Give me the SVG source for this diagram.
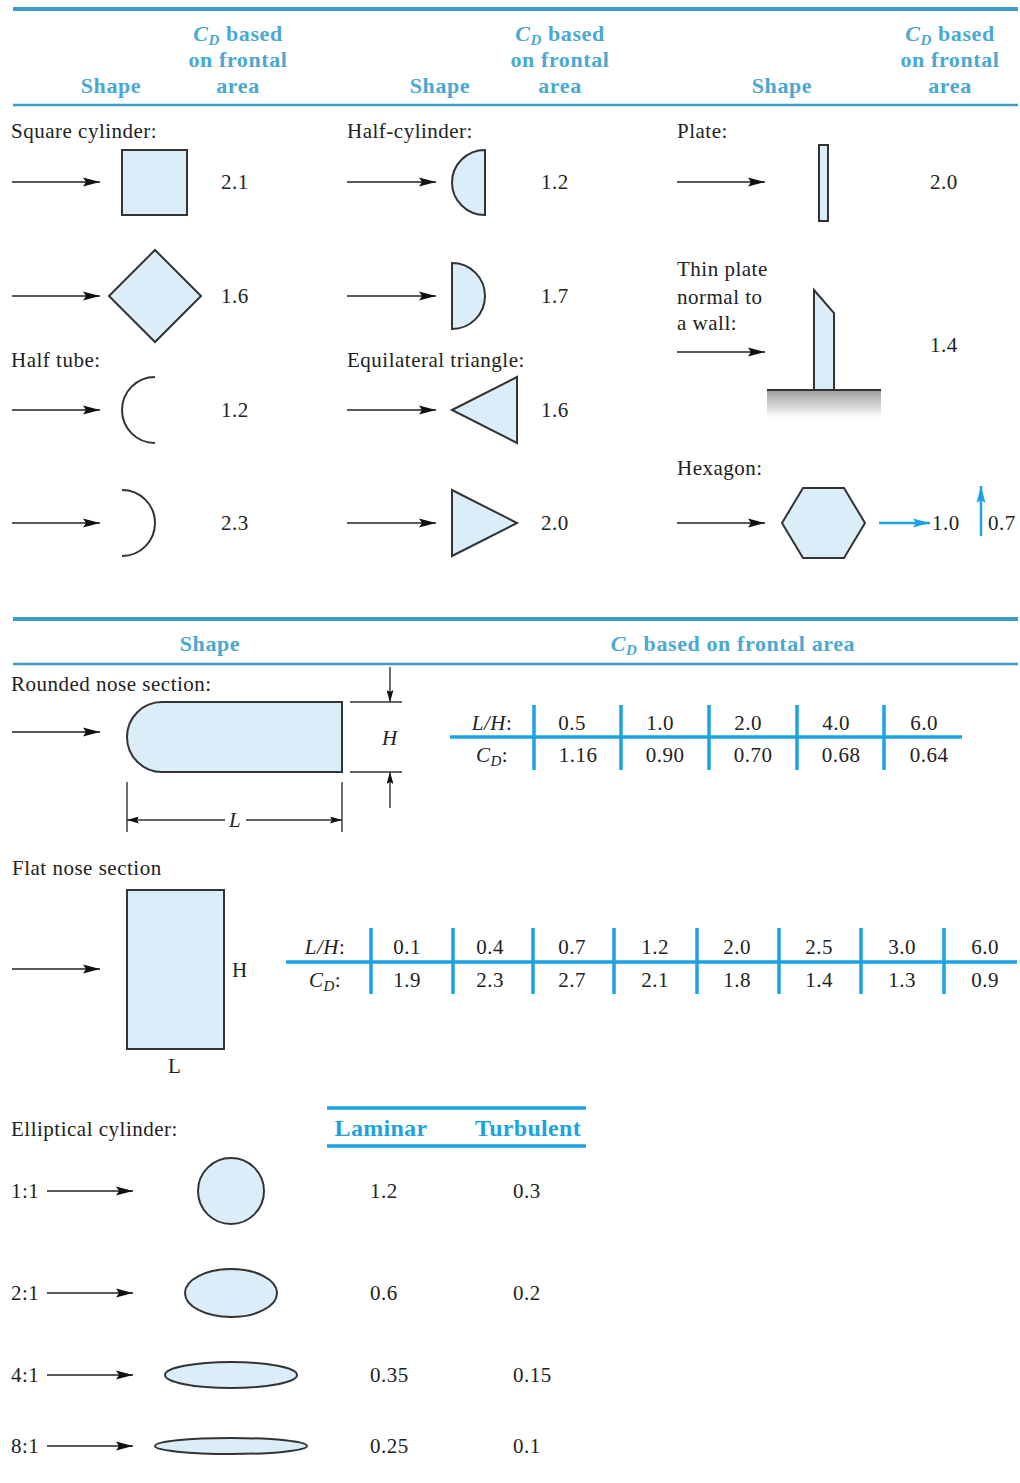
<svg xmlns="http://www.w3.org/2000/svg" width="1020" height="1483" viewBox="0 0 1020 1483">
<defs>
<style>
.t{font-family:"Liberation Serif","Times New Roman",serif;font-size:21px;letter-spacing:0.5px;fill:#222}
.h{font-family:"Liberation Serif","Times New Roman",serif;font-size:22px;letter-spacing:0.6px;font-weight:bold;fill:#4aa8d2}
.hb{font-family:"Liberation Serif","Times New Roman",serif;font-size:24px;letter-spacing:0.3px;font-weight:bold;fill:#1ba3e3}
.i{font-style:italic}
.sh{fill:#dcedfa;stroke:#333;stroke-width:2}
.op{fill:none;stroke:#333;stroke-width:2}
.ar{stroke:#222;stroke-width:1.6;fill:none;marker-end:url(#ah)}
.dm{stroke:#333;stroke-width:1.4;fill:none}
.rule{stroke:#3b9cc8;fill:none}
.tb{stroke:#1ba3e3;stroke-width:3.5;fill:none}
</style>
<marker id="ah" viewBox="0 0 17 10" refX="17" refY="5" markerWidth="17" markerHeight="10" markerUnits="userSpaceOnUse" orient="auto">
<path d="M0,0.5 L17,5 L0,9.5 L3,5 Z" fill="#111"/>
</marker>
<marker id="ahs" viewBox="0 0 12 7" refX="12" refY="3.5" markerWidth="12" markerHeight="7" markerUnits="userSpaceOnUse" orient="auto">
<path d="M0,0 L12,3.5 L0,7 L2,3.5 Z" fill="#111"/>
</marker>
<marker id="ahb" viewBox="0 0 17 10" refX="17" refY="5" markerWidth="17" markerHeight="10" markerUnits="userSpaceOnUse" orient="auto">
<path d="M0,0.5 L17,5 L0,9.5 L3,5 Z" fill="#1ba3e3"/>
</marker>
<linearGradient id="wall" x1="0" y1="0" x2="0" y2="1">
<stop offset="0" stop-color="#9e9e9e"/>
<stop offset="1" stop-color="#fbfbfb"/>
</linearGradient>
</defs>
<rect width="1020" height="1483" fill="#fff"/>

<g id="header1">
<line class="rule" x1="13" y1="9" x2="1018" y2="9" stroke-width="4"/>
<line class="rule" x1="13" y1="105" x2="1018" y2="105" stroke-width="2.5"/>
<text class="h" x="111" y="93" text-anchor="middle">Shape</text>
<text class="h" x="238" y="41" text-anchor="middle"><tspan class="i">C</tspan><tspan class="i" font-size="15" dy="4">D</tspan><tspan dy="-4"> based</tspan></text>
<text class="h" x="238" y="67" text-anchor="middle">on frontal</text>
<text class="h" x="238" y="93" text-anchor="middle">area</text>
<text class="h" x="440" y="93" text-anchor="middle">Shape</text>
<text class="h" x="560" y="41" text-anchor="middle"><tspan class="i">C</tspan><tspan class="i" font-size="15" dy="4">D</tspan><tspan dy="-4"> based</tspan></text>
<text class="h" x="560" y="67" text-anchor="middle">on frontal</text>
<text class="h" x="560" y="93" text-anchor="middle">area</text>
<text class="h" x="782" y="93" text-anchor="middle">Shape</text>
<text class="h" x="950" y="41" text-anchor="middle"><tspan class="i">C</tspan><tspan class="i" font-size="15" dy="4">D</tspan><tspan dy="-4"> based</tspan></text>
<text class="h" x="950" y="67" text-anchor="middle">on frontal</text>
<text class="h" x="950" y="93" text-anchor="middle">area</text>
</g>

<g id="square-cylinder">
<text class="t" x="11" y="138">Square cylinder:</text>
<rect class="sh" x="122" y="150" width="65" height="65"/>
<text class="t" x="221" y="189">2.1</text>
</g>
<g id="diamond">
<polygon class="sh" points="155,250 201,296 155,342 109,296"/>
<text class="t" x="221" y="303">1.6</text>
</g>
<g id="half-tube-open-right">
<text class="t" x="11" y="367">Half tube:</text>
<path class="op" d="M155,377 A33,33 0 0 0 155,443"/>
<text class="t" x="221" y="417">1.2</text>
</g>
<g id="half-tube-open-left">
<path class="op" d="M122,490 A33,33 0 0 1 122,556"/>
<text class="t" x="221" y="530">2.3</text>
</g>

<g id="half-cylinder-1">
<text class="t" x="347" y="138">Half-cylinder:</text>
<path class="sh" d="M485,150 A33,32.5 0 0 0 485,215 Z"/>
<text class="t" x="541" y="189">1.2</text>
</g>
<g id="half-cylinder-2">
<path class="sh" d="M452,263 A33,33 0 0 1 452,329 Z"/>
<text class="t" x="541" y="303">1.7</text>
</g>
<g id="triangle-left">
<text class="t" x="347" y="367">Equilateral triangle:</text>
<polygon class="sh" points="452,410 517,377 517,443"/>
<text class="t" x="541" y="417">1.6</text>
</g>
<g id="triangle-right">
<polygon class="sh" points="452,490 517,523 452,556"/>
<text class="t" x="541" y="530">2.0</text>
</g>

<g id="plate">
<text class="t" x="677" y="138">Plate:</text>
<rect class="sh" x="819" y="145" width="9" height="76"/>
<text class="t" x="930" y="189">2.0</text>
</g>
<g id="thin-plate-wall">
<text class="t" x="677" y="276">Thin plate</text>
<text class="t" x="677" y="304">normal to</text>
<text class="t" x="677" y="330">a wall:</text>
<rect x="767" y="390" width="114" height="27" fill="url(#wall)"/>
<polygon class="sh" points="814,290 834,313 834,390 814,390"/>
<line x1="767" y1="390" x2="881" y2="390" stroke="#333" stroke-width="2"/>
<text class="t" x="930" y="352">1.4</text>
</g>
<g id="hexagon">
<text class="t" x="677" y="475">Hexagon:</text>
<polygon class="sh" points="782,523 803,488 844,488 865,523 844,558 803,558"/>
<text class="t" x="932" y="530">1.0</text>
<text class="t" x="988" y="530">0.7</text>
</g>

<g id="section2-header">
<line class="rule" x1="13" y1="619" x2="1018" y2="619" stroke-width="4"/>
<line class="rule" x1="13" y1="664" x2="1018" y2="664" stroke-width="2.5"/>
<text class="h" x="210" y="651" text-anchor="middle">Shape</text>
<text class="h" x="733" y="651" text-anchor="middle"><tspan class="i">C</tspan><tspan class="i" font-size="15" dy="4">D</tspan><tspan dy="-4"> based on frontal area</tspan></text>
</g>

<g id="rounded-nose">
<text class="t" x="11" y="691">Rounded nose section:</text>
<path class="sh" d="M162,702 H342 V772 H162 A35,35 0 0 1 162,702 Z"/>
<line class="dm" x1="350" y1="702" x2="402" y2="702"/>
<line class="dm" x1="350" y1="772" x2="402" y2="772"/>
<line class="dm" x1="127" y1="782" x2="127" y2="832"/>
<line class="dm" x1="342" y1="782" x2="342" y2="832"/>
<text class="t i" x="382" y="745">H</text>
<text class="t i" x="235" y="827" text-anchor="middle">L</text>
</g>
<g id="table-rounded">
<line class="tb" x1="450" y1="737" x2="962" y2="737"/>
<line class="tb" x1="534" y1="705" x2="534" y2="770"/>
<line class="tb" x1="621" y1="705" x2="621" y2="770"/>
<line class="tb" x1="709" y1="705" x2="709" y2="770"/>
<line class="tb" x1="797" y1="705" x2="797" y2="770"/>
<line class="tb" x1="884" y1="705" x2="884" y2="770"/>
<text class="t" x="492" y="730" text-anchor="middle"><tspan class="i">L/H</tspan>:</text>
<text class="t" x="492" y="762" text-anchor="middle"><tspan class="i">C</tspan><tspan class="i" font-size="15" dy="4">D</tspan><tspan dy="-4">:</tspan></text>
<text class="t" x="572" y="730" text-anchor="middle">0.5</text>
<text class="t" x="660" y="730" text-anchor="middle">1.0</text>
<text class="t" x="748" y="730" text-anchor="middle">2.0</text>
<text class="t" x="836" y="730" text-anchor="middle">4.0</text>
<text class="t" x="924" y="730" text-anchor="middle">6.0</text>
<text class="t" x="578" y="762" text-anchor="middle">1.16</text>
<text class="t" x="665" y="762" text-anchor="middle">0.90</text>
<text class="t" x="753" y="762" text-anchor="middle">0.70</text>
<text class="t" x="841" y="762" text-anchor="middle">0.68</text>
<text class="t" x="929" y="762" text-anchor="middle">0.64</text>
</g>

<g id="flat-nose">
<text class="t" x="12" y="875">Flat nose section</text>
<rect class="sh" x="127" y="890" width="97" height="159"/>
<text class="t" x="232" y="977">H</text>
<text class="t" x="168" y="1073">L</text>
</g>
<g id="table-flat">
<line class="tb" x1="286" y1="962" x2="1017" y2="962"/>
<line class="tb" x1="371" y1="928" x2="371" y2="994"/>
<line class="tb" x1="453" y1="928" x2="453" y2="994"/>
<line class="tb" x1="533" y1="928" x2="533" y2="994"/>
<line class="tb" x1="614" y1="928" x2="614" y2="994"/>
<line class="tb" x1="697" y1="928" x2="697" y2="994"/>
<line class="tb" x1="779" y1="928" x2="779" y2="994"/>
<line class="tb" x1="861" y1="928" x2="861" y2="994"/>
<line class="tb" x1="944" y1="928" x2="944" y2="994"/>
<text class="t" x="325" y="954" text-anchor="middle"><tspan class="i">L/H</tspan>:</text>
<text class="t" x="325" y="987" text-anchor="middle"><tspan class="i">C</tspan><tspan class="i" font-size="15" dy="4">D</tspan><tspan dy="-4">:</tspan></text>
<text class="t" x="407" y="954" text-anchor="middle">0.1</text>
<text class="t" x="490" y="954" text-anchor="middle">0.4</text>
<text class="t" x="572" y="954" text-anchor="middle">0.7</text>
<text class="t" x="655" y="954" text-anchor="middle">1.2</text>
<text class="t" x="737" y="954" text-anchor="middle">2.0</text>
<text class="t" x="819" y="954" text-anchor="middle">2.5</text>
<text class="t" x="902" y="954" text-anchor="middle">3.0</text>
<text class="t" x="985" y="954" text-anchor="middle">6.0</text>
<text class="t" x="407" y="987" text-anchor="middle">1.9</text>
<text class="t" x="490" y="987" text-anchor="middle">2.3</text>
<text class="t" x="572" y="987" text-anchor="middle">2.7</text>
<text class="t" x="655" y="987" text-anchor="middle">2.1</text>
<text class="t" x="737" y="987" text-anchor="middle">1.8</text>
<text class="t" x="819" y="987" text-anchor="middle">1.4</text>
<text class="t" x="902" y="987" text-anchor="middle">1.3</text>
<text class="t" x="985" y="987" text-anchor="middle">0.9</text>
</g>

<g id="elliptical-header">
<text class="t" x="11" y="1136">Elliptical cylinder:</text>
<line class="tb" x1="327" y1="1108" x2="586" y2="1108" stroke-width="4"/>
<line class="tb" x1="327" y1="1146" x2="586" y2="1146" stroke-width="4"/>
<text class="hb" x="381" y="1136" text-anchor="middle">Laminar</text>
<text class="hb" x="528" y="1136" text-anchor="middle">Turbulent</text>
</g>
<g id="ellipse-1-1">
<text class="t" x="11" y="1198">1:1</text>
<ellipse class="sh" cx="231" cy="1191" rx="33" ry="33"/>
<text class="t" x="370" y="1198">1.2</text>
<text class="t" x="513" y="1198">0.3</text>
</g>
<g id="ellipse-2-1">
<text class="t" x="11" y="1300">2:1</text>
<ellipse class="sh" cx="231" cy="1293" rx="46" ry="24"/>
<text class="t" x="370" y="1300">0.6</text>
<text class="t" x="513" y="1300">0.2</text>
</g>
<g id="ellipse-4-1">
<text class="t" x="11" y="1382">4:1</text>
<ellipse class="sh" cx="231" cy="1375" rx="66" ry="13"/>
<text class="t" x="370" y="1382">0.35</text>
<text class="t" x="513" y="1382">0.15</text>
</g>
<g id="ellipse-8-1">
<text class="t" x="11" y="1453">8:1</text>
<ellipse class="sh" cx="231" cy="1446" rx="76" ry="8"/>
<text class="t" x="370" y="1453">0.25</text>
<text class="t" x="513" y="1453">0.1</text>
</g>

<g id="connectors">
<line class="ar" x1="12" y1="182" x2="100" y2="182"/>
<line class="ar" x1="12" y1="296" x2="100" y2="296"/>
<line class="ar" x1="12" y1="410" x2="100" y2="410"/>
<line class="ar" x1="12" y1="523" x2="100" y2="523"/>
<line class="ar" x1="347" y1="182" x2="436" y2="182"/>
<line class="ar" x1="347" y1="296" x2="436" y2="296"/>
<line class="ar" x1="347" y1="410" x2="436" y2="410"/>
<line class="ar" x1="347" y1="523" x2="436" y2="523"/>
<line class="ar" x1="677" y1="182" x2="765" y2="182"/>
<line class="ar" x1="677" y1="352" x2="765" y2="352"/>
<line class="ar" x1="677" y1="523" x2="765" y2="523"/>
<line x1="879" y1="523" x2="930" y2="523" stroke="#1ba3e3" stroke-width="2.5" marker-end="url(#ahb)"/>
<line x1="981" y1="536" x2="981" y2="486" stroke="#1ba3e3" stroke-width="2.5" marker-end="url(#ahb)"/>
<line class="ar" x1="12" y1="732" x2="100" y2="732"/>
<line class="dm" x1="390" y1="667" x2="390" y2="702" marker-end="url(#ahs)"/>
<line class="dm" x1="390" y1="808" x2="390" y2="772" marker-end="url(#ahs)"/>
<line class="dm" x1="225" y1="820" x2="127" y2="820" marker-end="url(#ahs)"/>
<line class="dm" x1="246" y1="820" x2="342" y2="820" marker-end="url(#ahs)"/>
<line class="ar" x1="12" y1="969" x2="100" y2="969"/>
<line class="ar" x1="47" y1="1191" x2="133" y2="1191"/>
<line class="ar" x1="47" y1="1293" x2="133" y2="1293"/>
<line class="ar" x1="47" y1="1375" x2="133" y2="1375"/>
<line class="ar" x1="47" y1="1446" x2="133" y2="1446"/>
</g>
</svg>
